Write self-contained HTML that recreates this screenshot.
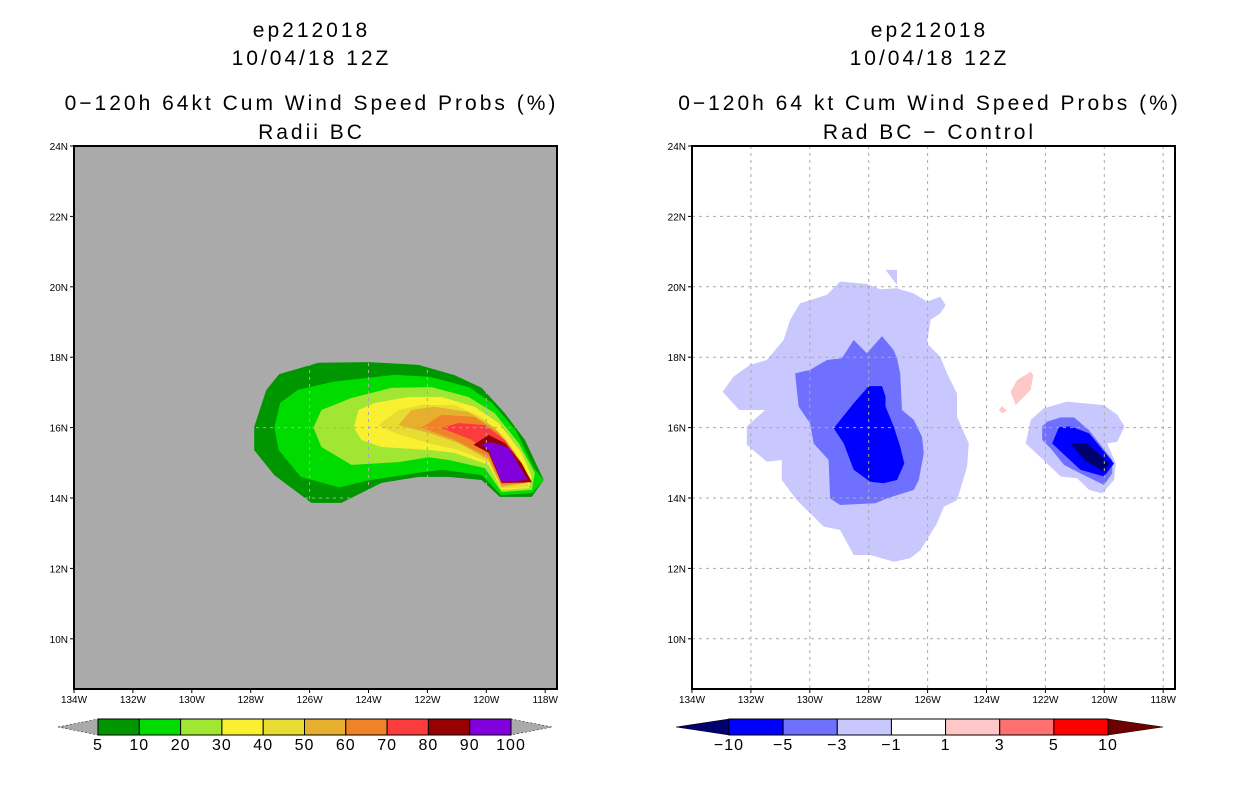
<!DOCTYPE html>
<html><head><meta charset="utf-8"><style>
html,body{margin:0;padding:0;background:#fff;width:1236px;height:800px;overflow:hidden}
svg{display:block}
text{font-family:"Liberation Sans",sans-serif;fill:#000}
</style></head><body>
<svg id="c" width="1236" height="800" xmlns="http://www.w3.org/2000/svg"></svg>
<script>
// ---------- data ----------
const lonTicks=[134,132,130,128,126,124,122,120,118];
const latTicks=[24,22,20,18,16,14,12,10];
const leftLevels=["5","10","20","30","40","50","60","70","80","90","100"];
const leftColors=["#009600","#00dc00","#a0e632","#faf032","#e6dc32","#e6af2d","#f08228","#fa3c3c","#960000","#8200dc"];
const rightLevels=["-10","-5","-3","-1","1","3","5","10"];
const rightColors=["#00006e","#0000ff","#7070ff","#c8c8ff","#ffffff","#ffc8c8","#ff7070","#ff0000","#6e0000"];
// left contours [lon,lat]
const L5=[[-127.88,16.02],[-127.47,17.07],[-127.03,17.52],[-125.7,17.84],[-124.0,17.86],[-122.3,17.78],[-121.07,17.49],[-120.16,17.13],[-119.37,16.41],[-118.69,15.65],[-118.05,14.51],[-118.46,14.03],[-119.54,14.03],[-120.16,14.51],[-121.28,14.6],[-122.3,14.6],[-123.56,14.43],[-124.92,13.86],[-125.94,13.86],[-127.2,14.65],[-127.88,15.36]];
const L10=[[-127.2,16.0],[-127.0,16.7],[-126.4,17.07],[-125.2,17.3],[-123.1,17.5],[-121.9,17.44],[-120.6,17.15],[-119.8,16.7],[-119.0,15.93],[-118.4,14.88],[-118.05,14.5],[-118.45,14.14],[-119.5,14.08],[-120.15,14.65],[-121.5,14.8],[-122.45,14.7],[-124.0,14.5],[-125.0,14.3],[-126.3,14.6],[-127.05,15.36]];
const L20=[[-125.87,16.0],[-125.6,16.5],[-124.58,16.84],[-123.22,17.13],[-121.86,17.15],[-120.6,16.87],[-119.71,16.41],[-118.9,15.56],[-118.35,14.71],[-118.45,14.23],[-119.48,14.17],[-120.05,14.85],[-121.28,15.08],[-121.96,15.16],[-122.98,15.02],[-124.58,14.94],[-125.6,15.45]];
const L30=[[-124.5,16.0],[-124.34,16.5],[-123.8,16.7],[-122.64,16.87],[-121.52,16.87],[-120.4,16.59],[-119.58,16.13],[-118.8,15.28],[-118.45,14.6],[-118.56,14.28],[-119.48,14.23],[-119.92,14.94],[-121.07,15.28],[-121.86,15.36],[-123.56,15.45],[-124.24,15.65]];
const L40=[[-123.66,16.07],[-122.98,16.5],[-122.2,16.64],[-121.07,16.64],[-120.16,16.3],[-119.37,15.73],[-118.69,14.88],[-118.56,14.31],[-119.48,14.28],[-119.92,15.02],[-120.94,15.36],[-121.96,15.56],[-123.12,15.85]];
const L50=[[-122.98,16.07],[-122.54,16.5],[-121.76,16.59],[-120.6,16.44],[-119.71,16.0],[-119.03,15.28],[-118.63,14.43],[-119.48,14.31],[-119.92,15.08],[-120.94,15.56],[-121.96,15.85]];
const L60=[[-122.2,16.0],[-121.52,16.36],[-120.4,16.3],[-119.58,15.85],[-118.9,15.08],[-118.69,14.43],[-119.48,14.37],[-119.92,15.16],[-121.07,15.65]];
const L70=[[-121.52,15.99],[-120.94,16.13],[-120.05,16.07],[-119.37,15.65],[-118.8,14.99],[-118.69,14.43],[-119.48,14.43],[-119.92,15.28],[-120.5,15.65]];
const L80=[[-120.43,15.51],[-119.92,15.79],[-119.37,15.56],[-118.8,14.99],[-118.45,14.45],[-119.48,14.43],[-119.92,15.28]];
const L90=[[-120.16,15.51],[-119.82,15.59],[-119.24,15.42],[-118.6,14.51],[-119.48,14.45],[-119.92,15.36]];
const leftPolys=[L5,L10,L20,L30,L40,L50,L60,L70,L80,L90];
// right contours
const Rm1=[[-132.96,17.02],[-132.59,17.45],[-132.03,17.78],[-131.46,17.92],[-130.89,18.49],[-130.67,19.06],[-130.33,19.53],[-129.42,19.77],[-128.97,20.15],[-128.06,20.08],[-127.61,19.93],[-127.04,19.96],[-126.47,19.81],[-126.02,19.58],[-125.57,19.72],[-125.39,19.48],[-125.57,19.25],[-125.9,19.06],[-126.02,18.39],[-125.57,18.01],[-125.34,17.54],[-125.0,16.97],[-125.0,16.31],[-124.6,15.55],[-124.66,14.89],[-125.0,13.94],[-125.45,13.75],[-125.68,13.28],[-126.24,12.52],[-126.59,12.29],[-127.15,12.19],[-127.95,12.38],[-128.51,12.38],[-128.97,13.09],[-129.53,13.19],[-130.44,13.94],[-130.95,14.51],[-130.95,15.08],[-131.46,15.03],[-132.14,15.51],[-132.14,16.03],[-131.52,16.5],[-132.4,16.5]];
const Rm1b=[[-127.43,20.48],[-127.04,20.48],[-127.04,20.05]];
const Rm3=[[-130.5,17.54],[-129.99,17.64],[-129.42,17.92],[-128.91,17.97],[-128.51,18.49],[-128.06,18.11],[-127.55,18.6],[-127.15,18.2],[-127.04,17.97],[-126.93,17.54],[-126.87,16.5],[-126.47,16.22],[-126.19,15.74],[-126.13,15.27],[-126.3,14.51],[-126.47,14.23],[-127.38,13.99],[-127.78,13.85],[-128.97,13.8],[-129.31,13.99],[-129.36,15.08],[-129.87,15.55],[-129.99,16.12],[-130.38,16.6]];
const Rm5=[[-129.19,15.98],[-128.51,16.69],[-128.0,17.18],[-127.55,17.18],[-127.43,16.88],[-127.43,16.6],[-127.15,16.03],[-126.93,15.46],[-126.79,14.98],[-127.04,14.51],[-127.49,14.42],[-127.95,14.46],[-128.51,14.8],[-128.85,15.55]];
const Rp1=[[-123.18,17.02],[-122.96,17.35],[-122.5,17.59],[-122.41,17.49],[-122.5,17.07],[-123.01,16.64]];
const Rp1b=[[-123.58,16.5],[-123.47,16.61],[-123.3,16.48],[-123.47,16.41]];
const Sm1=[[-122.67,15.55],[-122.5,16.22],[-122.05,16.55],[-121.26,16.74],[-120.01,16.64],[-119.56,16.36],[-119.31,16.03],[-119.56,15.6],[-119.9,15.55],[-119.61,14.98],[-119.67,14.51],[-120.07,14.13],[-120.52,14.23],[-120.92,14.56],[-121.48,14.61],[-121.94,14.98]];
const Sm3=[[-122.11,16.03],[-121.94,16.17],[-121.48,16.29],[-121.03,16.29],[-120.52,15.93],[-119.73,15.08],[-119.73,14.7],[-120.01,14.37],[-120.81,14.7],[-121.37,14.94],[-121.82,15.41],[-122.11,15.65]];
const Sm5=[[-121.77,15.55],[-121.54,16.01],[-121.14,16.03],[-120.52,15.84],[-119.67,14.98],[-120.01,14.61],[-120.81,14.8],[-121.48,15.32]];
const Sm10=[[-121.14,15.55],[-120.58,15.55],[-119.84,14.98],[-120.01,14.75],[-120.69,15.08]];
const rightPolys=[[Rm1,"#c8c8ff"],[Rm1b,"#c8c8ff"],[Rm3,"#7070ff"],[Rm5,"#0000ff"],[Rp1,"#ffc8c8"],[Rp1b,"#ffc8c8"],[Sm1,"#c8c8ff"],[Sm3,"#7070ff"],[Sm5,"#0000ff"],[Sm10,"#00006e"]];

// ---------- drawing ----------
const NS="http://www.w3.org/2000/svg";
const svg=document.getElementById('c');
function mk(tag,attrs,parent){const e=document.createElementNS(NS,tag);for(const k in attrs)e.setAttribute(k,attrs[k]);(parent||svg).appendChild(e);return e;}
const PW=483,PH=543,PT=146,DEG_X=29.45,DEG_Y=35.2;
function xs(x0){return lon=>x0+(lon+134)*DEG_X;}
function ys(lat){return PT+(24-lat)*DEG_Y;}

function panel(x0,bg,t1,t3,t4,name){
  const X=xs(x0);
  const g=mk('g',{});
  
  
  [[t1,30],["10/04/18 12Z",58],[t3,103],[t4,132]].forEach((t,i)=>{
    const e=mk('text',{x:x0+PW/2-4,y:t[1]+7,'font-size':'21','text-anchor':'middle','letter-spacing':'3'},g);
    e.textContent=t[0];
    
    
  });
  const bgr=mk('rect',{x:x0,y:PT,width:PW,height:PH,fill:bg},g);
  
  
  return {g,X};
}
function poly(g,X,pts,fill,nm){
  const p=mk('polygon',{points:pts.map(q=>X(q[0]).toFixed(1)+','+ys(q[1]).toFixed(1)).join(' '),fill:fill},g);
  
  
}
function axes(g,X,x0){
  const clip=mk('g',{},g);
  lonTicks.forEach(l=>{const x=X(-l);if(x>x0+2&&x<x0+PW-2){const e=mk('line',{x1:x,x2:x,y1:PT,y2:PT+PH,stroke:'#aaa','stroke-dasharray':'3,4','stroke-width':1},clip);}});
  latTicks.forEach(l=>{const y=ys(l);if(y>PT+2){const e=mk('line',{x1:x0,x2:x0+PW,y1:y,y2:y,stroke:'#aaa','stroke-dasharray':'3,4','stroke-width':1},clip);}});
  const b=mk('rect',{x:x0,y:PT,width:PW,height:PH,fill:'none',stroke:'#000','stroke-width':2},g);
  
  lonTicks.forEach(l=>{const x=X(-l);mk('line',{x1:x,x2:x,y1:PT+PH,y2:PT+PH+4,stroke:'#000'},g);
    const t=mk('text',{x:x,y:PT+PH+14,'font-size':'10','text-anchor':'middle'},g);t.textContent=l+'W';
    });
  latTicks.forEach(l=>{const y=ys(l);mk('line',{x1:x0-4,x2:x0,y1:y,y2:y,stroke:'#000'},g);
    const t=mk('text',{x:x0-6,y:y+4,'font-size':'10','text-anchor':'end'},g);t.textContent=l+'N';
    });
}
function colorbar(g,left,right,bx0,bx1,colors,labels,withEnds){
  const n=withEnds?colors.length-2:colors.length;
  const w=(bx1-bx0)/n, y0=719,y1=735,ym=727;
  const cb=mk('g',{},g);
  
  const lc=withEnds?colors[0]:'#aaa', rc=withEnds?colors[colors.length-1]:'#aaa';
  const mid=withEnds?colors.slice(1,-1):colors;
  const lt=mk('polygon',{points:`${left},${ym} ${bx0},${y0} ${bx0},${y1}`,fill:lc,stroke:'#000','stroke-width':0.5,'stroke-dasharray':withEnds?'':'2,2'},cb);
  
  const rt=mk('polygon',{points:`${right},${ym} ${bx1},${y0} ${bx1},${y1}`,fill:rc,stroke:'#000','stroke-width':0.5,'stroke-dasharray':withEnds?'':'2,2'},cb);
  
  mid.forEach((c,i)=>{const r=mk('rect',{x:bx0+i*w,y:y0,width:w,height:y1-y0,fill:c,stroke:'#000','stroke-width':1},cb);
    });
  labels.forEach((s,i)=>{const x=bx0+i*w;
    const t=mk('text',{x:x,y:750,'font-size':'16','text-anchor':'middle','letter-spacing':'1'},cb);t.textContent=s.replace('-','\u2212');
    });
}

// left panel
const A=panel(74,'#aaaaaa','ep212018','0\u2212120h 64kt Cum Wind Speed Probs (%)','Radii BC','left-panel');
leftPolys.forEach((p,i)=>poly(A.g,A.X,p,leftColors[i],'contour-'+leftLevels[i]));
axes(A.g,A.X,74);
colorbar(A.g,58,552,98,511,leftColors,leftLevels,false);

// right panel
const B=panel(692,'#ffffff','ep212018','0\u2212120h 64 kt Cum Wind Speed Probs (%)','Rad BC \u2212 Control','right-panel');
rightPolys.forEach(p=>poly(B.g,B.X,p[0],p[1],'diff-contour'));
axes(B.g,B.X,692);
colorbar(B.g,676,1163,729,1108,rightColors,rightLevels.slice(0),true);
</script>
</body></html>
